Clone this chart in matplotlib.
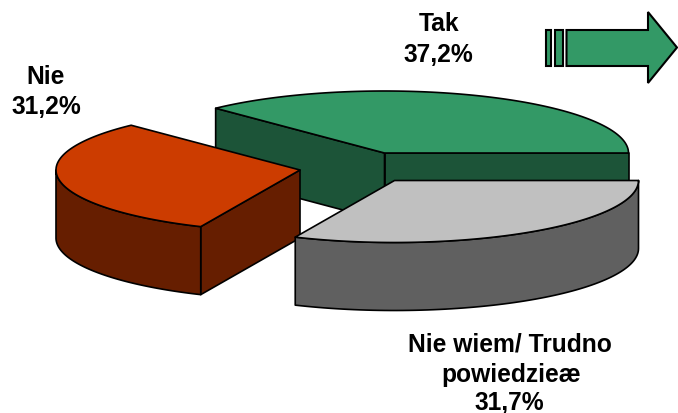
import numpy as np
import matplotlib
matplotlib.use("Agg")
import matplotlib.pyplot as plt
from matplotlib.patches import Polygon

labels = ["Tak", "Nie", "Nie wiem/ Trudno\npowiedzieæ"]
shares = [37.2, 31.2, 31.7]
top_colors = ["#339966", "#CC3C00", "#C0C0C0"]
side_colors = ["#1C5438", "#661E00", "#606060"]

# pie geometry in pixels
RX = 244
RY = 62
DEPTH = 68
centers = [(384.5, 154), (300, 171), (394.5, 181.5)]
EDGE = "black"
LW = 1.2


def ell(cx, cy, deg):
    a = np.radians(deg)
    return np.column_stack([cx + RX * np.cos(a), cy - RY * np.sin(a)])


def face(ax, pts, color):
    ax.add_patch(Polygon(pts, closed=True, facecolor=color, edgecolor=EDGE,
                         linewidth=LW, joinstyle="round"))


def drop(pts):
    return pts + np.array([0, DEPTH])


def draw_slice(ax, c, start, end, top, side):
    cx, cy = c
    center = np.array([[cx, cy]])
    # radial walls which face the viewer
    for deg in (start, end):
        p = ell(cx, cy, np.array([deg]))
        normal_y = np.sin(np.radians(deg + 90 if deg == end else deg - 90))
        if normal_y < 0 or deg % 360 == 0:
            wall = np.vstack([center, p, drop(p), drop(center)])
            face(ax, wall, side)
    # outer rim, front half only
    lo = max(start, 180)
    hi = min(end, 360)
    if hi > lo:
        rim = ell(cx, cy, np.linspace(lo, hi, 80))
        face(ax, np.vstack([rim, drop(rim)[::-1]]), side)
    arc = ell(cx, cy, np.linspace(start, end, 120))
    face(ax, np.vstack([center, arc]), top)


fig = plt.figure(figsize=(6.78, 4.14), dpi=100)
ax = fig.add_axes([0, 0, 1, 1])
ax.set_xlim(0, 678)
ax.set_ylim(414, 0)
ax.axis("off")

# angles run counter clockwise from the right, Tak first
total = sum(shares)
edges = np.concatenate([[0], np.cumsum(shares) / total * 360])
for i in range(3):
    draw_slice(ax, centers[i], edges[i], edges[i + 1], top_colors[i], side_colors[i])

# arrow in the corner
arrow_lw = 1.5
for x0, x1 in [(546, 551), (554.5, 562.5)]:
    face_pts = [(x0, 31), (x1, 31), (x1, 67), (x0, 67)]
    ax.add_patch(Polygon(face_pts, facecolor="#339966", edgecolor=EDGE, linewidth=arrow_lw))
ax.add_patch(Polygon([(566.5, 31), (648, 31), (648, 13), (677, 48.5), (648, 84), (648, 67), (566.5, 67)],
                     facecolor="#339966", edgecolor=EDGE, linewidth=arrow_lw, joinstyle="miter"))

font = dict(family="Liberation Sans", fontweight="bold", fontsize=17.7,
            ha="center", va="baseline", color="black")


def pct(v):
    return str(v).replace(".", ",") + "%"


ax.text(439, 31, labels[0], **font)
ax.text(438.5, 62, pct(shares[0]), **font)
ax.text(46, 84, labels[1], **font)
ax.text(46, 114, pct(shares[1]), **font)
line1, line2 = labels[2].split("\n")
ax.text(509.5, 352, line1, **font)
ax.text(511, 382, line2, **font)
ax.text(509, 410, pct(shares[2]), **font)

fig.savefig("out.png", dpi=100)
